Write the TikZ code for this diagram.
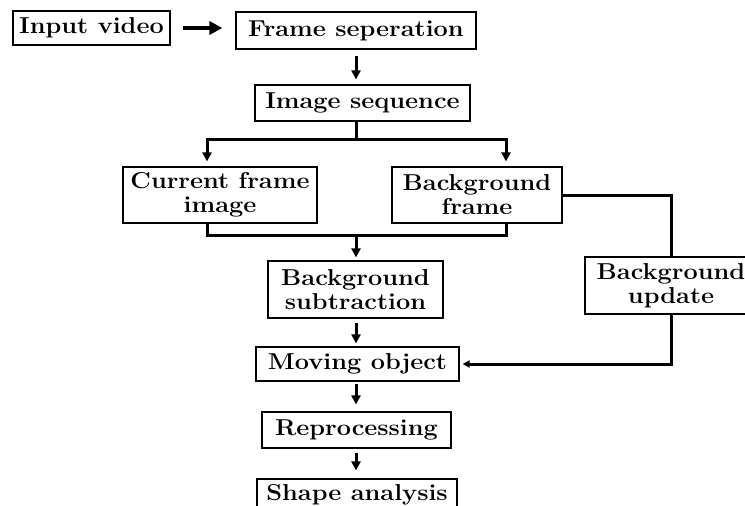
\documentclass[tikz,border=0pt]{standalone}
\usepackage{fontspec}
\setmainfont{Latin Modern Roman}[FakeStretch=1.1]
\usetikzlibrary{arrows.meta}
\begin{document}
\begin{tikzpicture}[x=1pt,y=-1pt,
  box/.style={draw, line width=1.2pt, inner sep=0pt, align=center,
    font=\fontsize{23}{24}\selectfont\bfseries},
  con/.style={line width=3pt, line join=miter},
  arr/.style={line width=3pt, -{Triangle[length=9pt,width=9pt]}},
  arrsmall/.style={line width=3pt, line join=miter, -{Triangle[length=7pt,width=7pt]}},
  bigarr/.style={line width=4.5pt, -{Triangle[length=13pt,width=13pt]}},
]
\useasboundingbox (0,0) rectangle (745,506);

\node[box, minimum width=157pt, minimum height=34pt] (inp) at (91.5,28) {Input video};
\node[box, minimum width=240pt, minimum height=37pt] (frame) at (356,30.5) {Frame seperation};
\node[box, minimum width=215pt, minimum height=36pt] (seq) at (362.5,103) {Image sequence};
\node[box, minimum width=194pt, minimum height=56pt] (cur) at (220,195) {Current frame\\image};
\node[box, minimum width=170pt, minimum height=56pt] (bgf) at (477,195) {Background\\frame};
\node[box, minimum width=175pt, minimum height=57pt] (sub) at (355.5,289.5) {Background\\subtraction};
\node[box, minimum width=172pt, minimum height=57pt] (upd) at (671,285.5) {Background\\update};
\node[box, minimum width=203pt, minimum height=34pt] (mov) at (357.5,364) {Moving object};
\node[box, minimum width=189pt, minimum height=36pt] (rep) at (356.5,430) {Reprocessing};
\node[box, minimum width=200pt, minimum height=32pt] (shp) at (357,495) {Shape analysis};

\coordinate (sl) at (207,139);
\coordinate (sr) at (506,139);
\coordinate (bl) at (207,235);
\coordinate (br) at (506,235);

\draw[bigarr, shorten <=12pt, shorten >=13pt] (inp.east) -- (frame.west |- inp.east);
\draw[arr, shorten <=6pt, shorten >=5pt] (frame.south) -- (frame.south |- seq.north);
\draw[con] (frame.south |- seq.south) -- (frame.south |- sl);
\draw[line width=3pt, line join=miter,
  {Triangle[length=9pt,width=9pt]}-{Triangle[length=9pt,width=9pt]},
  shorten <=5pt, shorten >=5pt] (sl |- cur.north) -- (sl) -- (sr) -- (sr |- bgf.north);
\draw[con] (bl |- cur.south) -- (bl) -- (br) -- (br |- bgf.south);
\draw[arr, shorten >=3pt] (frame.south |- bl) -- (frame.south |- sub.north);
\draw[con] (bgf.east) -| (upd.north);
\draw[arrsmall, shorten >=3pt] (upd.south) |- (mov.east);
\draw[arr, shorten <=4pt, shorten >=3pt] (frame.south |- sub.south) -- (frame.south |- mov.north);
\draw[arr, shorten <=2pt, shorten >=7pt] (frame.south |- mov.south) -- (frame.south |- rep.north);
\draw[arr, shorten <=4pt, shorten >=8pt] (frame.south |- rep.south) -- (frame.south |- shp.north);
\end{tikzpicture}
\end{document}
